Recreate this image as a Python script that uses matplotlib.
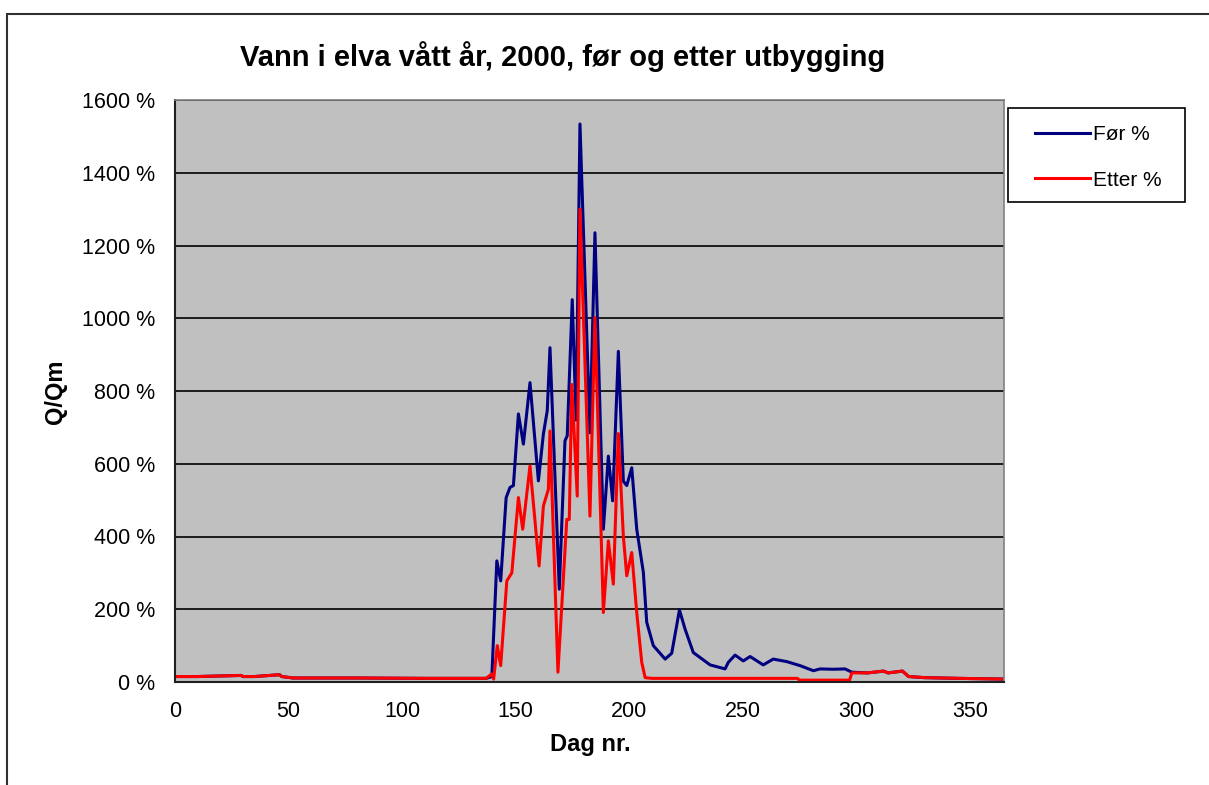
"""Vann i elva vått år 2000 - Q/Qm før og etter utbygging."""
import matplotlib

matplotlib.use("Agg")
import matplotlib.pyplot as plt
from matplotlib.patches import Rectangle

plt.rcParams["font.family"] = ["Liberation Sans", "DejaVu Sans"]

# dag nr. og Q/Qm i prosent, lest av figuren
dager_for = [0, 10, 29, 30, 35, 46, 47, 52, 80, 110, 130, 137, 139.5, 141.7, 143.4,
             145.8, 147.5, 149.0, 151.2, 153.4, 156.3, 160.0, 162.2, 163.9, 165.1,
             169.2, 171.7, 172.7, 174.9, 176.6, 178.3, 182.7, 184.9, 188.6, 190.8,
             192.7, 195.2, 197.4, 198.9, 201.1, 203.3, 206.2, 207.7, 210.6, 215.8,
             218.7, 222.1, 224.6, 228.2, 235.6, 242.2, 243.6, 246.6, 250.2, 253.2,
             259.0, 263.4, 269.4, 275.2, 281.1, 284.0, 289.9, 295.0, 298.0, 305,
             311.9, 314, 320.3, 323, 330, 345, 365]
for_pct = [15, 15, 18, 15, 15, 20, 15, 11, 11, 10, 10, 10, 15, 333, 278,
           507, 535, 540, 737, 654, 823, 553, 682, 746, 919,
           255, 663, 677, 1051, 720, 1534, 685, 1235, 420, 621,
           498, 909, 552, 540, 589, 420, 302, 164, 100, 63,
           79, 198, 145, 81, 47, 36, 54, 74, 58, 70,
           47, 63, 56, 45, 31, 36, 35, 36, 27, 25,
           30, 25, 30, 15, 12, 10, 8]

dager_etter = [0, 10, 29, 30, 35, 46, 47, 52, 80, 110, 130, 137, 139.4, 140.3,
               141.9, 143.4, 146.1, 148.3, 151.2, 153.1, 156.3, 160.3, 162.2,
               164.4, 165.1, 168.6, 172.5, 173.6, 174.7, 177.1, 178.3, 182.7, 184.9,
               188.6, 190.8, 193.0, 195.2, 197.4, 198.9, 201.1, 203.3, 205.5, 207.0,
               210, 274, 275, 297, 298, 305, 311.9, 314, 320.3, 323, 330, 345, 365]
etter_pct = [15, 15, 18, 15, 15, 20, 15, 11, 11, 10, 10, 10, 22, 8,
             100, 45, 278, 300, 507, 420, 594, 319, 484,
             530, 690, 27, 447, 447, 818, 511, 1300, 456, 1002,
             191, 388, 269, 683, 401, 292, 356, 191, 54, 12,
             10, 10, 5, 5, 25, 25, 30, 25, 30, 15, 12, 10, 8]

y_ticks = list(range(0, 1601, 200))
x_ticks = list(range(0, 351, 50))

W, H = 1209, 785
fig = plt.figure(figsize=(W / 100, H / 100), dpi=100)
fig.patch.set_facecolor("white")

# ytre ramme rundt diagrammet
fig.add_artist(Rectangle((7 / W, -0.1), 1.2, 1.1 - 14 / H, transform=fig.transFigure,
                         fill=False, edgecolor="#303030", linewidth=1.5))

ax = fig.add_axes([175 / W, 1 - 682 / H, (1004 - 175) / W, (682 - 100) / H])
ax.set_facecolor("#C0C0C0")

ax.plot(dager_for, for_pct, color="#000080", linewidth=2.2, label="Før %")
ax.plot(dager_etter, etter_pct, color="#FF0000", linewidth=2.2, label="Etter %")

ax.set_xlim(0, 365)
ax.set_ylim(0, 1600)
ax.set_yticks(y_ticks)
ax.set_yticklabels([f"{v} %" for v in y_ticks])
ax.set_xticks(x_ticks)
ax.grid(axis="y", color="black", linewidth=1.2)
ax.set_axisbelow(True)
ax.tick_params(length=0, labelsize=15.5, pad=14)

for side in ("top", "right"):
    ax.spines[side].set_color("#808080")
    ax.spines[side].set_linewidth(1.2)
for side in ("left", "bottom"):
    ax.spines[side].set_color("#202020")
    ax.spines[side].set_linewidth(1.5)

fig.text(0.4653, 1 - 57 / H, "Vann i elva vått år, 2000, før og etter utbygging",
         ha="center", va="center", fontsize=21, fontweight="bold")
fig.text(55 / W, 1 - 392 / H, "Q/Qm", rotation=90, ha="center", va="center",
         fontsize=17, fontweight="bold")
fig.text(590 / W, 1 - 745 / H, "Dag nr.", ha="center", va="center",
         fontsize=17, fontweight="bold")

# legenderamme tegnes for seg
fig.add_artist(Rectangle((1008 / W, 1 - 202 / H), 177 / W, 94 / H,
                         transform=fig.transFigure, fill=False,
                         edgecolor="black", linewidth=1.2))
leg = ax.legend(loc="upper left", bbox_to_anchor=(1035 / W, 1 - 125 / H),
                bbox_transform=fig.transFigure, fontsize=15, frameon=False,
                handlelength=2.65, handletextpad=0.15, labelspacing=1.28,
                borderpad=0, borderaxespad=0)

fig.savefig("out.png", dpi=100)
